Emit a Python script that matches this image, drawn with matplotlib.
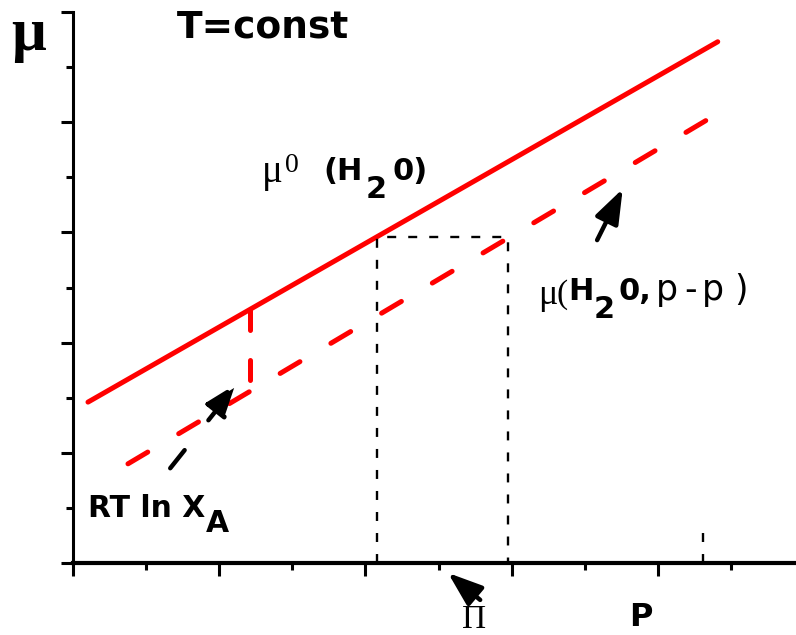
import matplotlib
matplotlib.use('Agg')
import matplotlib.pyplot as plt
from matplotlib.transforms import IdentityTransform

W, H = 796, 635

# pressure / chemical potential values
p_pure = [0.205, 8.82]
mu_pure = [2.92, 9.46]
p_sol = [0.752, 8.95]
mu_sol = [1.80, 8.26]
p_drop = [2.42, 2.42]
mu_drop = [4.60, 3.11]
p_box = [4.16, 4.16, 5.95, 5.95]
mu_box = [0.0, 5.92, 5.92, 0.0]
p_mark = [8.62, 8.62]
mu_mark = [0.0, 0.6]

# arrows: tail, tip, dashed shaft?
arrow_tails = [(1.33, 1.72), (7.17, 5.86), (5.57, -0.67)]
arrow_tips = [(2.26, 3.27), (7.52, 6.79), (5.13, -0.18)]
arrow_dashed = [True, False, False]

x_major = [0, 2, 4, 6, 8]
x_minor = [1, 3, 5, 7, 9]
y_major = [0, 2, 4, 6, 8, 10]
y_minor = [1, 3, 5, 7, 9]

SANS = 'DejaVu Sans'
SERIF = 'Liberation Serif'


def main():
	fig = plt.figure(figsize=(W / 100, H / 100), dpi=100)
	ax = fig.add_axes([73 / W, (H - 563) / H, (W - 73) / W, (563 - 12) / H])
	ax.set_xlim(0, (W - 73) / 73.1)
	ax.set_ylim(0, 10)

	ax.plot(p_pure, mu_pure, color='red', lw=3.6, solid_capstyle='round')
	ax.plot(p_sol, mu_sol, color='red', lw=3.6, dashes=(4.6, 7.2),
			dash_capstyle='round')
	ax.plot(p_drop, mu_drop, color='red', lw=3.6, dashes=(4.0, 6.0),
			dash_capstyle='round')
	ax.plot(p_box, mu_box, color='black', lw=1.7, dashes=(3.8, 5.1))
	ax.plot(p_mark, mu_mark, color='black', lw=1.7, dashes=(3.8, 5.1))

	for tail, tip, dashed in zip(arrow_tails, arrow_tips, arrow_dashed):
		ls = (0, (5.2, 8.6)) if dashed else '-'
		ax.annotate('', xy=tip, xytext=tail, annotation_clip=False,
					arrowprops=dict(arrowstyle='-|>,head_length=1.05,head_width=0.38',
									mutation_scale=20, lw=3.2, color='black',
									shrinkA=0, shrinkB=0, linestyle=ls,
									capstyle='round'))

	for s in ['top', 'right']:
		ax.spines[s].set_visible(False)
	ax.spines['left'].set_linewidth(2.2)
	ax.spines['bottom'].set_linewidth(3)
	ax.set_xticks(x_major)
	ax.set_xticks(x_minor, minor=True)
	ax.set_yticks(y_major)
	ax.set_yticks(y_minor, minor=True)
	ax.tick_params(which='major', direction='out', length=9, width=2.2,
				   labelbottom=False, labelleft=False)
	ax.tick_params(which='minor', direction='out', length=5, width=2.2)

	def txt(x, y, s, **kw):
		# x, y: left / baseline in picture pixels (top-left origin)
		ax.text(x, H - y, s, transform=IdentityTransform(), ha='left',
				va='baseline', clip_on=False, **kw)

	txt(11, 50, 'μ', family=SERIF, weight='bold', size=44)
	txt(177, 38, 'T=const', family=SANS, weight='bold', size=27)

	txt(262, 182, 'μ', family=SERIF, size=28)
	txt(285, 172, '0', family=SERIF, size=20)
	txt(323, 180, '(H', family=SANS, weight='bold', size=22)
	txt(366, 198, '2', family=SANS, weight='bold', size=22)
	txt(393, 180, '0)', family=SANS, weight='bold', size=22)

	txt(538, 304, 'μ', family=SERIF, size=26)
	txt(557, 303, '(', family=SERIF, size=24)
	txt(568, 300, 'H', family=SANS, weight='bold', size=22)
	txt(594, 318, '2', family=SANS, weight='bold', size=22)
	txt(619, 300, '0,', family=SANS, weight='bold', size=22)
	txt(656, 300, 'p', family=SANS, size=25)
	txt(684, 300, '-', family=SANS, size=25)
	txt(702, 300, 'p', family=SANS, size=25)
	txt(734, 300, ')', family=SANS, size=25)

	txt(88, 517, 'RT ln X', family=SANS, weight='bold', size=21.5)
	txt(206, 532, 'A', family=SANS, weight='bold', size=21.5)

	txt(462, 628, 'Π', family=SERIF, size=24)
	txt(629, 626, 'P', family=SANS, weight='bold', size=23)

	fig.savefig('out.png', dpi=100)
	plt.close(fig)


if __name__ == '__main__':
	main()
